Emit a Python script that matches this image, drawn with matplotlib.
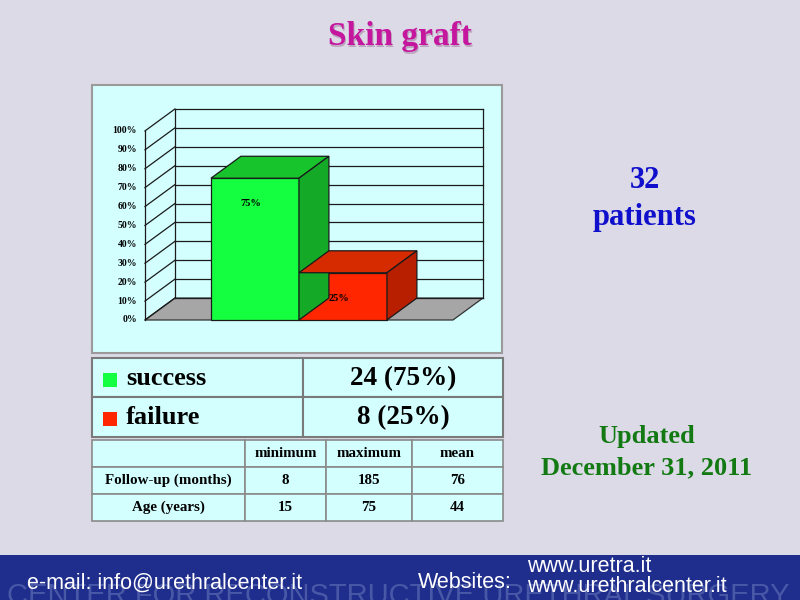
import numpy as np
import matplotlib
matplotlib.use("Agg")
import matplotlib.pyplot as plt
from matplotlib.patches import Polygon, Rectangle

# chart data
categories = ["success", "failure"]
percent = [75, 25]
counts = [24, 8]
yticks = list(range(0, 101, 10))

# follow-up table
stat_cols = ["minimum", "maximum", "mean"]
stat_rows = ["Follow-up (months)", "Age (years)"]
followup = [8, 185, 76]
age = [15, 75, 44]
n_patients = 32

front_colors = ["#14ff40", "#ff2600"]
top_colors = ["#18c42c", "#d62a00"]
side_colors = ["#14aa28", "#b81e00"]

SERIF = "Liberation Serif"
SANS = "Liberation Sans"
BG = "#dcdae6"
PANEL = "#d4ffff"

fig = plt.figure(figsize=(8, 6), dpi=100)
fig.patch.set_facecolor(BG)

# background axes in pixel units
bg = fig.add_axes([0, 0, 1, 1])
bg.set_xlim(0, 800)
bg.set_ylim(600, 0)
bg.axis("off")

# chart panel
bg.add_patch(Rectangle((92, 85), 410, 268, facecolor=PANEL, edgecolor="#9a9a9a", lw=1.5))

# title and side texts
bg.text(401, 38, "Skin graft", ha="center", va="center", fontsize=24, fontweight="bold",
        family=SERIF, color="#5a0a48", alpha=0.25)
bg.text(400, 37, "Skin graft", ha="center", va="center", fontsize=24, fontweight="bold",
        family=SERIF, color="#c4179e")
bg.text(645, 181, str(n_patients), ha="center", va="center", fontsize=22, fontweight="bold",
        family=SERIF, color="#1010cc")
bg.text(645, 217, "patients", ha="center", va="center", fontsize=22, fontweight="bold",
        family=SERIF, color="#1010cc")
bg.text(647, 437, "Updated", ha="center", va="center", fontsize=19, fontweight="bold",
        family=SERIF, color="#137a13")
bg.text(647, 468, "December 31, 2011", ha="center", va="center", fontsize=19, fontweight="bold",
        family=SERIF, color="#137a13")

# legend table
t1_cols = [92, 303, 503]
t1_rows = [358, 397, 437]
for i, (cat, n, p) in enumerate(zip(categories, counts, percent)):
    y0, y1 = t1_rows[i], t1_rows[i + 1]
    bg.add_patch(Rectangle((t1_cols[0], y0), t1_cols[1] - t1_cols[0], y1 - y0,
                           facecolor=PANEL, edgecolor="#7a7a7a", lw=1.5))
    bg.add_patch(Rectangle((t1_cols[1], y0), t1_cols[2] - t1_cols[1], y1 - y0,
                           facecolor=PANEL, edgecolor="#7a7a7a", lw=1.5))
    ym = (y0 + y1) / 2
    bg.add_patch(Rectangle((103, ym - 5), 14, 14, facecolor=front_colors[i], edgecolor="none"))
    bg.text(126, ym + 1, cat, ha="left", va="center", fontsize=19, fontweight="bold",
            family=SERIF, color="black")
    bg.text((t1_cols[1] + t1_cols[2]) / 2, ym + 1, f"{n} ({p}%)", ha="center", va="center",
            fontsize=19.5, fontweight="bold", family=SERIF, color="black")

# stats table
t2_cols = [92, 245, 326, 412, 503]
t2_rows = [440, 467, 494, 521]
cells = [[""] + stat_cols,
         [stat_rows[0]] + [str(v) for v in followup],
         [stat_rows[1]] + [str(v) for v in age]]
for r in range(3):
    for c in range(4):
        x0, x1 = t2_cols[c], t2_cols[c + 1]
        y0, y1 = t2_rows[r], t2_rows[r + 1]
        bg.add_patch(Rectangle((x0, y0), x1 - x0, y1 - y0, facecolor=PANEL,
                               edgecolor="#8a8a8a", lw=1.2))
        if cells[r][c]:
            bg.text((x0 + x1) / 2, (y0 + y1) / 2, cells[r][c], ha="center", va="center",
                    fontsize=10.8, fontweight="bold", family=SERIF, color="black")

# footer band
bg.add_patch(Rectangle((0, 555), 800, 45, facecolor="#1f2d8c", edgecolor="none"))
bg.text(398, 604, "CENTER FOR RECONSTRUCTIVE URETHRAL SURGERY", ha="center", va="baseline",
        fontsize=21, family=SANS, color="#4858a6", clip_on=True)
bg.text(27, 583, "e-mail: info@urethralcenter.it", ha="left", va="center", fontsize=15.5,
        family=SANS, color="white")
bg.text(418, 582, "Websites:", ha="left", va="center", fontsize=15.5, family=SANS, color="white")
bg.text(527, 566, "www.uretra.it", ha="left", va="center", fontsize=15.5, family=SANS,
        color="white")
bg.text(527, 587, "www.urethralcenter.it", ha="left", va="center", fontsize=15.5, family=SANS,
        color="white")

# 3D-looking bar chart
ax = fig.add_axes([92 / 800, (600 - 353) / 600, 410 / 800, 268 / 600])
ax.set_xlim(-1.352, 3.307)
ax.set_ylim(-17.46, 124.3)
ax.axis("off")

DX, DY = 0.34, 11.6
fx0, fx1 = -0.75, 2.75
line_kw = dict(color="#1a1a1a", lw=0.9)

# floor
ax.add_patch(Polygon([(fx0, 0), (fx1, 0), (fx1 + DX, DY), (fx0 + DX, DY)],
                     closed=True, facecolor="#a6a6a6", edgecolor="#333333", lw=0.9))
# back wall grid
for t in yticks:
    ax.plot([fx0 + DX, fx1 + DX], [t + DY, t + DY], **line_kw)
    ax.plot([fx0, fx0 + DX], [t, t + DY], **line_kw)
ax.plot([fx0 + DX, fx0 + DX], [DY, 100 + DY], **line_kw)
ax.plot([fx1 + DX, fx1 + DX], [DY, 100 + DY], **line_kw)
ax.plot([fx0, fx0], [0, 100], **line_kw)
for t in yticks:
    ax.text(fx0 - 0.09, t, f"{t}%", ha="right", va="center", fontsize=7,
            fontweight="bold", family=SERIF)

lefts = np.arange(len(percent))
ax.bar(lefts, percent, width=1, align="edge", color=front_colors, edgecolor="#1a1a1a",
       lw=0.9, zorder=3)
for l, v, tc, sc in zip(lefts, percent, top_colors, side_colors):
    ax.add_patch(Polygon([(l, v), (l + 1, v), (l + 1 + DX, v + DY), (l + DX, v + DY)],
                         closed=True, facecolor=tc, edgecolor="#1a1a1a", lw=0.9, zorder=3))
    ax.add_patch(Polygon([(l + 1, 0), (l + 1 + DX, DY), (l + 1 + DX, v + DY), (l + 1, v)],
                         closed=True, facecolor=sc, edgecolor="#1a1a1a", lw=0.9, zorder=3))
    ax.text(l + 0.45, v - 13.5, f"{v}%", ha="center", va="center", fontsize=7.5,
            fontweight="bold", family=SERIF, zorder=4)

fig.savefig("out.png", dpi=100, facecolor=BG)
